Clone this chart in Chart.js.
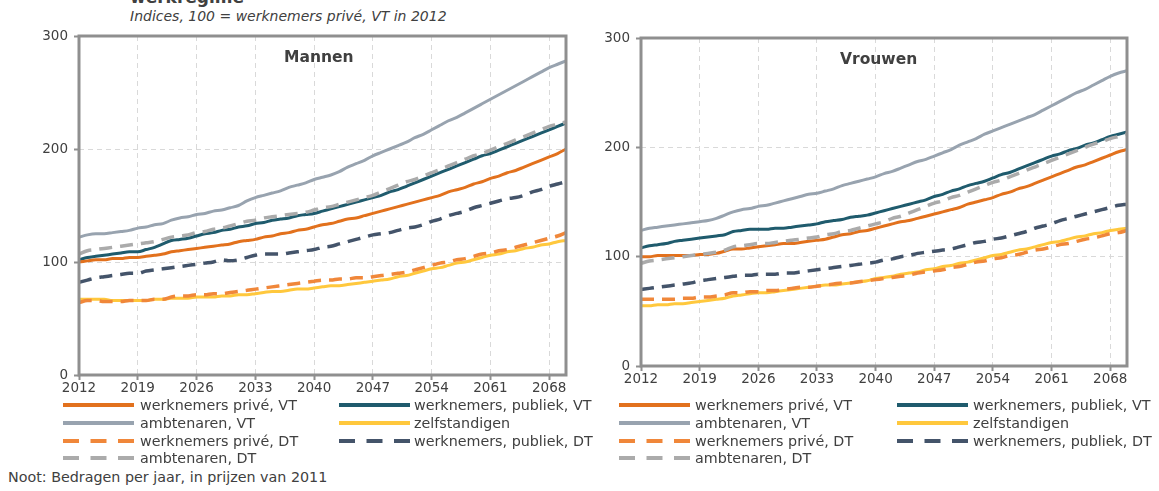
<!DOCTYPE html>
<html><head><meta charset="utf-8">
<script src="https://cdn.jsdelivr.net/npm/chart.js@4/dist/chart.umd.min.js"></script>
<style>
body{margin:0;background:#fff;width:1159px;height:491px;overflow:hidden;position:relative;font-family:'DejaVu Sans',sans-serif;color:#404040}
.abs{position:absolute;white-space:nowrap}
canvas{position:absolute}
.lg{position:absolute;height:18px;font-size:14.3px;line-height:18px;white-space:nowrap}
.lg svg{position:absolute;left:0;top:7px}
.lg span{position:absolute;top:0;white-space:nowrap}
</style></head><body>
<div class="abs" style="left:130px;top:-13px;font-weight:bold;font-size:17px">werkregime</div>
<div class="abs" style="left:130px;top:8px;font-style:italic;font-size:14px">Indices, 100 = werknemers privé, VT in 2012</div>
<canvas id="c1" width="590" height="400" style="left:0;top:0"></canvas>
<canvas id="c2" width="590" height="400" style="left:560px;top:0"></canvas>
<div class="abs" id="t1" style="left:284px;top:48px;font-weight:bold;font-size:15.5px">Mannen</div>
<div class="abs" id="t2" style="left:840px;top:50px;font-weight:bold;font-size:15.5px">Vrouwen</div>
<div id="leg"></div>
<div class="abs" style="left:8px;top:469px;font-size:14.3px">Noot: Bedragen per jaar, in prijzen van 2011</div>
<script>
const years = [2012,2013,2014,2015,2016,2017,2018,2019,2020,2021,
2022,2023,2024,2025,2026,2027,2028,2029,2030,2031,
2032,2033,2034,2035,2036,2037,2038,2039,2040,2041,
2042,2043,2044,2045,2046,2047,2048,2049,2050,2051,
2052,2053,2054,2055,2056,2057,2058,2059,2060,2061,
2062,2063,2064,2065,2066,2067,2068,2069,2070];
const tickYears = [2012,2019,2026,2033,2040,2047,2054,2061,2068];
const yTicks = [0,100,200,300];
const seriesNames = ['werknemers privé, VT','werknemers, publiek, VT','ambtenaren, VT','zelfstandigen','werknemers privé, DT','werknemers, publiek, DT','ambtenaren, DT'];

// Mannen
const mPriveVT = [100,101,102,102,103,103,104,104,105,106,
107,109,110,111,112,113,114,115,116,118,
119,120,122,123,125,126,128,129,131,133,
134,136,138,139,141,143,145,147,149,151,
153,155,157,159,162,164,166,169,171,174,
176,179,181,184,187,190,193,196,200];
const mPubliekVT = [102,104,105,106,107,108,109,109,111,113,
116,119,120,121,123,125,126,128,129,131,
132,134,135,137,138,139,141,142,143,145,
147,149,151,153,155,157,159,162,164,167,
170,173,176,179,182,185,188,191,194,196,
199,202,205,208,211,214,217,220,223];
const mAmbtVT = [122,124,125,125,126,127,128,130,131,133,
134,137,139,140,142,143,145,146,148,150,
154,157,159,161,163,166,168,170,173,175,
177,180,184,187,190,194,197,200,203,206,
210,213,217,221,225,228,232,236,240,244,
248,252,256,260,264,268,272,275,278];
const mZelf = [67,67,67,67,66,66,66,66,66,67,
67,68,68,68,69,69,69,70,70,71,
71,72,73,74,74,75,76,76,77,78,
79,79,80,81,82,83,84,85,87,88,
90,92,94,95,97,99,100,102,104,106,
107,109,110,112,113,115,116,118,119];
const mPriveDT = [64,66,66,65,65,65,66,66,66,67,
67,69,70,70,71,71,72,72,73,74,
75,76,77,78,79,80,81,82,83,84,
84,85,85,86,86,87,88,89,90,91,
93,95,97,99,100,102,103,105,107,108,
110,111,113,115,117,119,121,123,126];
const mPubliekDT = [82,84,86,87,88,89,90,90,92,93,
94,95,96,97,98,99,100,102,101,102,
104,106,107,107,107,108,109,110,111,113,
114,116,118,120,122,124,125,126,128,130,
131,133,136,138,141,143,145,148,150,152,
154,156,157,159,162,164,167,169,171];
const mAmbtDT = [107,110,111,112,113,114,115,116,117,118,
120,122,123,124,126,127,129,130,132,134,
136,137,139,140,141,142,143,144,146,148,
149,151,153,155,157,159,162,165,168,171,
173,176,179,182,185,188,191,194,196,199,
202,205,208,211,214,217,220,222,224];

// Vrouwen
const vPriveVT = [100,100,101,101,101,101,101,102,102,103,
105,107,107,108,109,110,111,112,112,113,
114,115,116,118,120,121,123,124,126,128,
130,132,133,135,137,139,141,143,145,148,
150,152,154,157,159,162,164,167,170,173,
176,179,182,184,187,190,193,196,198];
const vPubliekVT = [108,110,111,112,114,115,116,117,118,119,
120,123,124,125,125,125,126,126,127,128,
129,130,132,133,134,136,137,138,140,142,
144,146,148,150,152,155,157,160,162,165,
167,169,172,175,177,180,183,186,189,192,
194,197,199,202,204,207,210,212,214];
const vAmbtVT = [124,126,127,128,129,130,131,132,133,135,
138,141,143,144,146,147,149,151,153,155,
157,158,160,162,165,167,169,171,173,176,
178,181,184,187,189,192,195,198,202,205,
208,212,215,218,221,224,227,230,234,238,
242,246,250,253,257,261,265,268,270];
const vZelf = [55,55,56,56,57,57,58,59,60,61,
62,64,65,66,67,67,68,69,70,71,
72,73,74,74,75,76,77,78,80,81,
82,84,85,86,88,89,91,92,94,95,
97,99,101,102,104,106,107,109,111,113,
114,116,118,119,121,122,124,125,126];
const vPriveDT = [61,61,61,61,61,62,62,63,63,64,
65,67,67,68,68,69,69,70,71,72,
72,73,74,75,76,76,77,78,79,80,
81,82,83,85,86,87,88,90,91,93,
95,96,98,99,101,102,104,106,107,109,
111,112,114,116,117,119,121,122,124];
const vPubliekDT = [70,71,72,73,74,75,76,78,79,80,
81,82,83,83,84,84,84,85,85,86,
87,88,89,90,91,92,93,94,95,97,
98,100,101,103,104,105,106,107,109,111,
113,114,116,117,119,121,123,126,128,130,
133,135,137,139,141,143,145,147,148];
const vAmbtDT = [94,96,97,98,99,100,101,102,103,104,
106,109,110,111,112,112,113,114,115,116,
117,118,120,121,123,124,126,128,130,132,
135,137,140,143,146,149,151,154,156,159,
162,165,168,170,173,176,179,182,185,188,
191,194,197,200,203,205,208,210,212];

const styles = [
  {color:'#E2711D', dash:[], order:2, w:3},
  {color:'#1F5B6D', dash:[], order:2, w:3},
  {color:'#98A3AF', dash:[], order:2, w:3},
  {color:'#FFC83D', dash:[], order:2, w:3},
  {color:'#F0873A', dash:[13,8], order:1, w:3.5},
  {color:'#44546A', dash:[13,8], order:1, w:3.5},
  {color:'#ABABAB', dash:[13,8], order:1, w:3.5}
];

const TXT = '#404040', FRAME = '#8f8f8f', GRID = '#d9d9d9';
Chart.defaults.font.family = "'DejaVu Sans', sans-serif";
Chart.defaults.font.size = 13.5;
Chart.defaults.color = TXT;

const framePlugin = {
  id:'frame',
  afterDatasetsDraw(chart){
    const a = chart.chartArea, ctx = chart.ctx;
    ctx.save();
    ctx.strokeStyle = FRAME; ctx.lineWidth = 3;
    ctx.strokeRect(a.left, a.top, a.right-a.left, a.bottom-a.top);
    ctx.restore();
  }
};

function makeChart(id, series, lay){
  const datasets = series.map((vals,i)=>({
    label: seriesNames[i],
    data: years.map((y,k)=>({x:y, y:vals[k]})),
    borderColor: styles[i].color,
    borderDash: styles[i].dash,
    borderWidth: styles[i].w,
    pointRadius: 0,
    cubicInterpolationMode: 'monotone',
    fill: false,
    order: styles[i].order
  }));
  return new Chart(document.getElementById(id), {
    type:'line',
    data:{datasets},
    plugins:[framePlugin],
    options:{
      responsive:false, animation:false, devicePixelRatio:1,
      layout:{padding:{left:0, top:lay.top, right:lay.right, bottom:0}},
      plugins:{legend:{display:false}, tooltip:{enabled:false}},
      scales:{
        x:{type:'linear', min:years[0], max:years[years.length-1],
          afterBuildTicks:s=>{s.ticks = tickYears.map(v=>({value:v}));},
          afterFit:s=>{s.height = lay.xh;},
          ticks:{callback:v=>String(v), maxRotation:0, autoSkip:false, padding:0, color:TXT},
          grid:{color:GRID, lineWidth:1, tickColor:FRAME, tickLength:5, tickWidth:2, tickBorderDash:[]},
          border:{display:false, dash:[5,4]}
        },
        y:{min:0, max:300,
          afterBuildTicks:s=>{s.ticks = yTicks.map(v=>({value:v}));},
          afterFit:s=>{s.width = lay.yw;},
          ticks:{callback:v=>String(v), padding:6, color:TXT},
          grid:{color:GRID, lineWidth:1, tickColor:FRAME, tickLength:5, tickWidth:2, tickBorderDash:[]},
          border:{display:false, dash:[5,4]}
        }
      }
    }
  });
}

makeChart('c1', [mPriveVT,mPubliekVT,mAmbtVT,mZelf,mPriveDT,mPubliekDT,mAmbtDT], {top:36, right:24, xh:25, yw:79});
makeChart('c2', [vPriveVT,vPubliekVT,vAmbtVT,vZelf,vPriveDT,vPubliekDT,vAmbtDT], {top:38, right:23, xh:34, yw:81});

// HTML legends
const legendPos = [
  {lineX:[63,339], textX:[140,414]},
  {lineX:[619,897], textX:[695,973]}
];
const rowY = [396, 414, 431.5, 449];
const rowOf = [0,0,1,1,2,2,3];
const legHost = document.getElementById('leg');
legendPos.forEach(p=>{
  seriesNames.forEach((name,i)=>{
    const col = i%2, row = rowOf[i];
    const st = styles[i];
    const div = document.createElement('div');
    div.className = 'lg';
    div.style.left = p.lineX[col]+'px';
    div.style.top = rowY[row]+'px';
    const w = 71;
    const dash = st.dash.length ? 'stroke-dasharray="16 11.5"' : '';
    div.innerHTML = '<svg width="'+w+'" height="4"><line x1="0" y1="2" x2="'+w+'" y2="2" stroke="'+st.color+'" stroke-width="4" '+dash+'/></svg>'+
      '<span style="left:'+(p.textX[col]-p.lineX[col])+'px">'+name+'</span>';
    legHost.appendChild(div);
  });
});
</script>
</body></html>
